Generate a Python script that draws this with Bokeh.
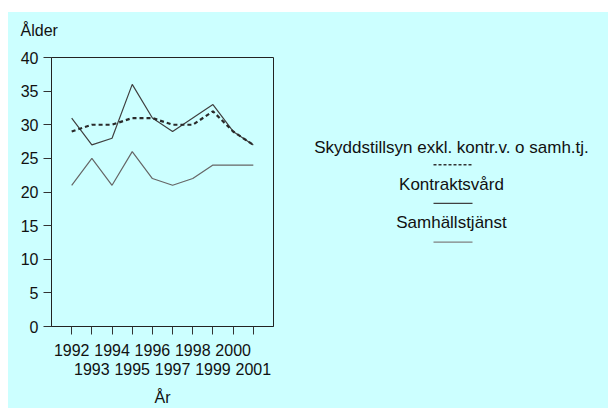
from bokeh.plotting import figure
from bokeh.models import Range1d, LinearAxis, FixedTicker, Spacer
from bokeh.layouts import row, column
from bokeh.core.properties import value
from bokeh.embed import file_html
from bokeh.resources import INLINE

years = [1992, 1993, 1994, 1995, 1996, 1997, 1998, 1999, 2000, 2001]
skyddstillsyn = [29, 30, 30, 31, 31, 30, 30, 32, 29, 27]
kontraktsvard = [31, 27, 28, 36, 31, 29, 31, 33, 29, 27]
samhallstjanst = [21, 25, 21, 26, 22, 21, 22, 24, 24, 24]
series_names = ["Skyddstillsyn exkl. kontr.v. o samh.tj.", "Kontraktsvård", "Samhällstjänst"]
y_ticks = [0, 5, 10, 15, 20, 25, 30, 35, 40]
y_title = "Ålder"
x_title = "År"

CYAN = "#CCFFFF"
FONT = "Liberation Sans"
FS = "16px"
TXT = "#111111"

p = figure(width=292, height=396, x_range=Range1d(1991, 2002), y_range=Range1d(0, 40),
           output_backend="svg", toolbar_location=None,
           min_border_left=43, min_border_right=27, min_border_top=45, min_border_bottom=80)
p.background_fill_color = CYAN
p.border_fill_color = CYAN
p.outline_line_color = "#222222"
p.outline_line_width = 1
p.grid.grid_line_color = None

# title placed as a two-line block (second line blank) so "Ålder" sits higher
p.title.text = y_title + "\n "
p.title.align = "left"
p.title.vertical_align = "top"
p.title.offset = -31
p.title.standoff = 0
p.title.text_font = FONT
p.title.text_font_size = FS
p.title.text_font_style = "normal"
p.title.text_color = TXT

odd = [y for y in years if y % 2 == 1]

xa = p.xaxis[0]
xa.ticker = FixedTicker(ticks=years)
xa.major_label_overrides = {y: (str(y) if y % 2 == 0 else "") for y in years}
xa.major_tick_in = 0
xa.major_tick_out = 8
xa.minor_tick_line_color = None
xa.major_label_text_font = FONT
xa.major_label_text_font_size = FS
xa.major_label_text_color = TXT
xa.major_label_standoff = 9
xa.axis_line_color = "#222222"
xa.major_tick_line_color = "#333333"

xa2 = LinearAxis(ticker=FixedTicker(ticks=odd), major_tick_in=0, major_tick_out=0,
                 axis_line_color=None, major_tick_line_color=None, minor_tick_line_color=None,
                 major_label_standoff=4, major_label_text_font=FONT, major_label_text_font_size=FS,
                 major_label_text_color=TXT, axis_label=x_title, axis_label_text_font=FONT,
                 axis_label_text_font_size=FS, axis_label_text_font_style="normal",
                 axis_label_text_color=TXT, axis_label_standoff=11)
p.add_layout(xa2, "below")

ya = p.yaxis[0]
ya.ticker = FixedTicker(ticks=y_ticks)
ya.major_tick_in = 0
ya.major_tick_out = 8
ya.minor_tick_line_color = None
ya.major_label_text_font = FONT
ya.major_label_text_font_size = FS
ya.major_label_text_color = TXT
ya.major_label_standoff = 5
ya.axis_line_color = "#222222"
ya.major_tick_line_color = "#333333"

p.line(years, samhallstjanst, line_color="#666666", line_width=1.2)
p.line(years, kontraktsvard, line_color="#404040", line_width=1.2)
p.line(years, skyddstillsyn, line_color="#2a2a2a", line_width=2.2, line_dash="4 3")

# legend panel (its frame is aligned with the chart frame: page y 57..328)
q = figure(width=308, height=396, x_range=Range1d(0, 308), y_range=Range1d(328, 57),
           output_backend="svg", toolbar_location=None, x_axis_location=None, y_axis_location=None,
           min_border=0)
q.background_fill_color = CYAN
q.border_fill_color = CYAN
q.outline_line_color = None
q.grid.grid_line_color = None
q.text(x=[151, 151, 151], y=[147.5, 185, 223.5], text=series_names, text_align="center",
       text_baseline="middle", text_font=value(FONT), text_font_size="17px", text_color=TXT)
q.line([133, 172], [165, 165], line_color="#333333", line_width=1.5, line_dash="3 2")
q.line([133, 172], [204, 204], line_color="#404040", line_width=1.2)
q.line([133, 172], [243, 243], line_color="#808080", line_width=1.2)

inner = row(p, q, spacing=0, styles={"background-color": CYAN})
layout = column(Spacer(width=608, height=12),
                row(Spacer(width=8, height=396), inner, spacing=0),
                spacing=0)
open("out.html", "w").write(file_html(layout, INLINE))
